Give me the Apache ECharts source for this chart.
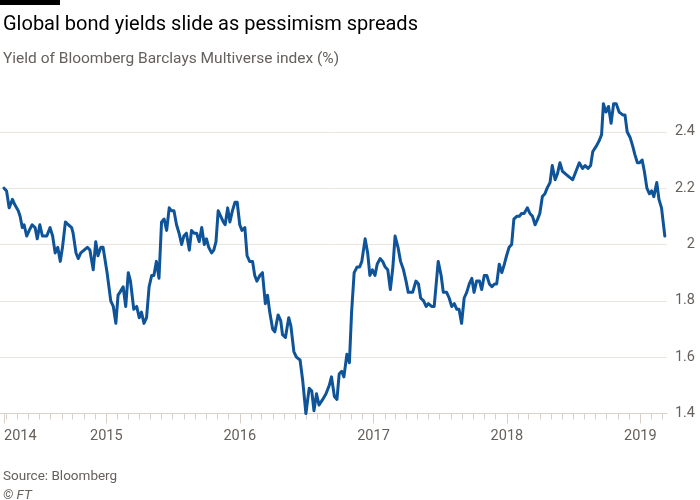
<!DOCTYPE html>
<html lang="en">
<head>
    <meta charset="UTF-8">
    <title>Global bond yields</title>
    <script src="https://cdn.jsdelivr.net/npm/echarts@6/dist/echarts.min.js"></script>
    <style>
        html, body { margin: 0; padding: 0; background: #fff; }
        #main { width: 700px; height: 500px; }
    </style>
</head>
<body>
<div id="main"></div>
<script>
    // weekly-ish readings of the Multiverse yield (%)
    var dates = [
        '2014-03-27','2014-04-03','2014-04-10','2014-04-19','2014-04-26','2014-05-05','2014-05-10','2014-05-16',
        '2014-05-21','2014-05-28','2014-06-04','2014-06-12','2014-06-20','2014-06-26','2014-07-03','2014-07-10',
        '2014-07-22','2014-07-31','2014-08-07','2014-08-14','2014-08-21','2014-08-28','2014-09-03','2014-09-11',
        '2014-09-19','2014-09-28','2014-10-02','2014-10-10','2014-10-16','2014-10-23','2014-11-01','2014-11-10',
        '2014-11-17','2014-11-26','2014-12-03','2014-12-09','2014-12-17','2014-12-23',
        '2015-01-03','2015-01-13','2015-01-20','2015-01-27','2015-02-02','2015-02-07','2015-02-16','2015-02-23',
        '2015-03-02','2015-03-08','2015-03-17','2015-03-25','2015-04-01','2015-04-07','2015-04-14','2015-04-21',
        '2015-04-28','2015-05-05','2015-05-11','2015-05-18','2015-05-25','2015-06-01','2015-06-08','2015-06-15',
        '2015-06-22','2015-06-28','2015-07-05','2015-07-12','2015-07-19','2015-07-26','2015-08-01','2015-08-08',
        '2015-08-16','2015-08-22','2015-08-29','2015-09-05','2015-09-12','2015-09-19','2015-09-26','2015-10-02',
        '2015-10-08','2015-10-16','2015-10-22','2015-10-28','2015-11-03','2015-11-10','2015-11-17','2015-11-22',
        '2015-11-29','2015-12-05','2015-12-12','2015-12-19','2015-12-25',
        '2016-01-01','2016-01-07','2016-01-15','2016-01-21','2016-01-28','2016-02-05','2016-02-11','2016-02-17',
        '2016-02-25','2016-03-03','2016-03-11','2016-03-17','2016-03-23','2016-03-31','2016-04-06','2016-04-15',
        '2016-04-22','2016-04-27','2016-05-05','2016-05-14','2016-05-20','2016-05-28','2016-06-04','2016-06-14',
        '2016-06-21','2016-06-30','2016-07-09','2016-07-16','2016-07-22','2016-07-29','2016-08-05','2016-08-15',
        '2016-08-24','2016-09-02','2016-09-08','2016-09-16','2016-09-23','2016-09-29','2016-10-06','2016-10-12',
        '2016-10-20','2016-10-27','2016-11-02','2016-11-09','2016-11-17','2016-11-24','2016-11-30','2016-12-09',
        '2016-12-16','2016-12-22','2016-12-29',
        '2017-01-05','2017-01-11','2017-01-19','2017-01-26','2017-02-02','2017-02-09','2017-02-16','2017-02-23',
        '2017-03-01','2017-03-09','2017-03-16','2017-03-24','2017-03-31','2017-04-06','2017-04-18','2017-04-27',
        '2017-05-04','2017-05-10','2017-05-18','2017-05-25','2017-05-31','2017-06-09','2017-06-16','2017-06-27',
        '2017-07-05','2017-07-11','2017-07-20','2017-07-27','2017-08-03','2017-08-10','2017-08-17','2017-08-23',
        '2017-08-30','2017-09-06','2017-09-13','2017-09-20','2017-09-27','2017-10-03','2017-10-10','2017-10-18',
        '2017-10-24','2017-10-31','2017-11-07','2017-11-14','2017-11-21','2017-11-28','2017-12-04','2017-12-11',
        '2017-12-18','2017-12-25','2017-12-31',
        '2018-01-07','2018-01-14','2018-01-20','2018-01-28','2018-02-04','2018-02-10','2018-02-17','2018-02-26',
        '2018-03-05','2018-03-12','2018-03-19','2018-03-26','2018-04-01','2018-04-08','2018-04-15','2018-04-21',
        '2018-04-29','2018-05-05','2018-05-13','2018-05-19','2018-05-26','2018-06-02','2018-06-11','2018-06-20',
        '2018-06-30','2018-07-09','2018-07-18','2018-07-27','2018-08-03','2018-08-11','2018-08-18','2018-08-24',
        '2018-09-03','2018-09-11','2018-09-17','2018-09-22','2018-09-29','2018-10-06','2018-10-13','2018-10-20',
        '2018-10-27','2018-11-04','2018-11-14','2018-11-20','2018-11-26','2018-12-04','2018-12-11','2018-12-17',
        '2018-12-24','2018-12-30',
        '2019-01-06','2019-01-12','2019-01-19','2019-01-26','2019-02-01','2019-02-07','2019-02-15','2019-02-21',
        '2019-02-28','2019-03-09'
    ];
    var yields = [
        2.20,2.19,2.13,2.16,2.14,2.12,2.10,2.06,
        2.07,2.03,2.05,2.07,2.06,2.02,2.07,2.03,
        2.03,2.06,2.03,1.97,1.99,1.94,1.99,2.08,
        2.07,2.06,2.04,1.97,1.95,1.97,1.98,1.99,
        1.98,1.91,2.01,1.96,1.99,1.99,
        1.90,1.80,1.78,1.72,1.82,1.83,1.85,1.78,
        1.90,1.87,1.77,1.78,1.74,1.76,1.72,1.74,
        1.85,1.89,1.89,1.94,1.88,2.08,2.09,2.05,
        2.13,2.12,2.12,2.07,2.04,2.00,2.03,2.04,
        1.98,2.05,2.04,2.04,2.01,2.06,2.00,2.02,
        1.99,1.97,1.98,2.01,2.12,2.10,2.08,2.07,
        2.13,2.08,2.12,2.15,2.15,
        2.07,2.05,2.06,1.96,1.94,1.94,1.89,1.87,
        1.89,1.90,1.79,1.82,1.76,1.70,1.69,1.75,
        1.73,1.68,1.67,1.74,1.71,1.62,1.60,1.59,
        1.52,1.40,1.49,1.48,1.41,1.47,1.43,1.45,
        1.47,1.50,1.53,1.46,1.45,1.54,1.55,1.53,
        1.61,1.58,1.76,1.90,1.92,1.92,1.94,2.02,
        1.97,1.89,1.91,
        1.89,1.93,1.95,1.94,1.92,1.91,1.84,1.92,
        2.03,1.99,1.94,1.91,1.87,1.83,1.83,1.87,
        1.86,1.81,1.80,1.78,1.79,1.78,1.78,1.94,
        1.89,1.83,1.83,1.81,1.78,1.79,1.77,1.77,
        1.72,1.81,1.83,1.86,1.88,1.83,1.87,1.87,
        1.84,1.89,1.89,1.86,1.85,1.86,1.86,1.93,
        1.90,1.93,1.96,
        1.99,2.00,2.09,2.10,2.10,2.11,2.11,2.13,
        2.11,2.10,2.07,2.09,2.11,2.17,2.18,2.20,
        2.22,2.28,2.23,2.25,2.29,2.26,2.25,2.24,
        2.23,2.26,2.29,2.27,2.28,2.27,2.28,2.33,
        2.35,2.37,2.39,2.50,2.47,2.49,2.43,2.50,
        2.50,2.47,2.46,2.46,2.40,2.38,2.35,2.32,
        2.29,2.29,
        2.30,2.26,2.20,2.18,2.19,2.17,2.22,2.16,
        2.13,2.03
    ];
    var yearTicks = ['2015-01-01','2016-01-01','2017-01-01','2018-01-01','2019-01-01'];
    var firstLabel = '2014';
    var axisStart = '2014-03-16', axisEnd = '2019-03-15';

    function ts(d) { return new Date(d + 'T00:00:00Z').getTime(); }

    var seriesData = [];
    for (var i = 0; i < dates.length; i++) {
        seriesData.push([ts(dates[i]), yields[i]]);
    }
    // month starts for the small ticks
    var monthTicks = [];
    for (var y = 2014; y <= 2019; y++) {
        for (var m = 0; m < 12; m++) {
            var t = Date.UTC(y, m, 1);
            if (t > ts(axisStart) && t < ts(axisEnd)) monthTicks.push(t);
        }
    }
    var yearTs = yearTicks.map(ts);
    var firstTs = ts(dates[0]);

    var ftGrey = '#66605c', gridCol = '#ebe5e0', axisCol = '#d9d0c9';
    var font = 'Roboto, "Noto Sans", sans-serif';

    var myChart = echarts.init(document.getElementById('main'));
    var baseX = {
        type: 'value',
        min: ts(axisStart),
        max: ts(axisEnd),
        position: 'bottom',
        splitLine: { show: false },
        axisLine: { show: false, onZero: false },
        axisTick: { show: false },
        axisLabel: { show: false }
    };
    var option = {
        backgroundColor: '#fff',
        animation: false,
        title: [{
            text: 'Global bond yields slide as pessimism spreads',
            subtext: 'Yield of Bloomberg Barclays Multiverse index (%)',
            left: -2,
            top: 10,
            itemGap: 16,
            textStyle: { fontFamily: font, fontSize: 20, fontWeight: 'normal', color: '#000' },
            subtextStyle: { fontFamily: font, fontSize: 15.5, color: ftGrey }
        }, {
            text: 'Source: Bloomberg',
            subtext: '© FT',
            left: -2,
            top: 465,
            itemGap: 5,
            textStyle: { fontFamily: font, fontSize: 13.5, fontWeight: 'normal', color: ftGrey },
            subtextStyle: { fontFamily: font, fontSize: 13.5, fontStyle: 'italic', color: ftGrey }
        }],
        graphic: [{
            type: 'rect',
            left: 0, top: 0,
            shape: { width: 60, height: 5 },
            style: { fill: '#000' }
        }],
        grid: { left: 0, right: 33, top: 98, bottom: 86.5 },
        xAxis: [
            Object.assign({}, baseX, {
                axisLine: { show: true, onZero: false, lineStyle: { color: axisCol, width: 1 } },
                axisTick: { show: true, length: 6, customValues: monthTicks, lineStyle: { color: axisCol } }
            }),
            Object.assign({}, baseX, {
                axisTick: { show: true, length: 10, customValues: [firstTs].concat(yearTs), lineStyle: { color: axisCol } },
                axisLabel: {
                    show: true, customValues: yearTs, margin: 15,
                    color: ftGrey, fontFamily: font, fontSize: 14.5,
                    formatter: function (v) { return String(new Date(v).getUTCFullYear()); }
                }
            }),
            Object.assign({}, baseX, {
                axisLabel: {
                    show: true, customValues: [firstTs], margin: 15, align: 'left',
                    color: ftGrey, fontFamily: font, fontSize: 14.5,
                    formatter: function () { return firstLabel; }
                }
            })
        ],
        yAxis: {
            type: 'value',
            position: 'right',
            min: 1.4,
            max: 2.52,
            interval: 0.2,
            axisLine: { show: false },
            axisTick: { show: false },
            splitLine: { show: true, showMinLine: false, showMaxLine: false, lineStyle: { color: gridCol, width: 1 } },
            axisLabel: {
                color: ftGrey, fontFamily: font, fontSize: 14.5,
                align: 'right', margin: 28, showMaxLabel: false
            }
        },
        series: [{
            type: 'line',
            data: seriesData,
            xAxisIndex: 0,
            symbol: 'none',
            smooth: false,
            lineStyle: { color: '#0f5499', width: 3, join: 'round', cap: 'round' }
        }]
    };
    myChart.setOption(option);
</script>
</body>
</html>
